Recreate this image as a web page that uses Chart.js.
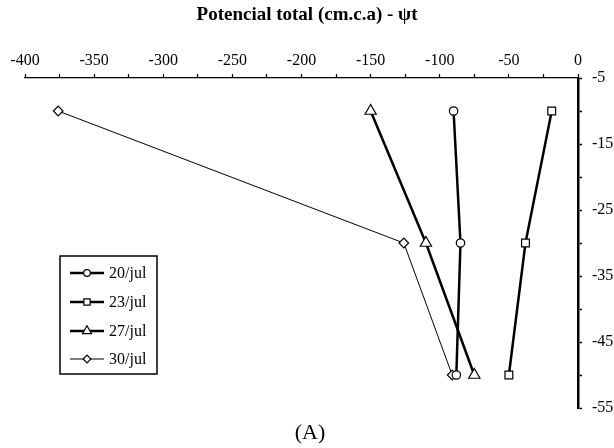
<!DOCTYPE html>
<html>
<head>
<meta charset="utf-8">
<script src="https://cdn.jsdelivr.net/npm/chart.js@4.4.0/dist/chart.umd.min.js"></script>
<style>
  body { margin: 0; background: #fff; }
  #wrap { position: relative; width: 614px; height: 448px; }
</style>
</head>
<body>
<div id="wrap"><canvas id="myChart" width="614" height="448"></canvas></div>
<script>
// profundidade (cm) de cada leitura
let depths = [-10, -30, -50]
// potencial total (cm.c.a) por data
let jul20 = [-90, -85, -88]
let jul23 = [-19, -38, -50]
let jul27 = [-150, -110, -75]
let jul30 = [-376, -126, -91]
let seriesNames = ['20/jul', '23/jul', '27/jul', '30/jul']
let xTicks = [-400, -350, -300, -250, -200, -150, -100, -50, 0]
let yTicks = [-5, -15, -25, -35, -45, -55]

let font = 'Liberation Serif'

function pts(vals) {
    return vals.map(function(v, i){ return { x: v, y: depths[i] } })
}

function mkSet(label, vals, shape, r, lw) {
    return {
        label: label,
        data: pts(vals),
        showLine: true,
        borderColor: '#000',
        borderWidth: lw,
        backgroundColor: '#fff',
        pointStyle: shape,
        pointRadius: r,
        pointBorderWidth: 1.2,
        pointBorderColor: '#000',
        pointBackgroundColor: '#fff'
    }
}

let sets = [
    mkSet(seriesNames[0], jul20, 'circle', 4.2, 2.5),
    mkSet(seriesNames[1], jul23, 'rect', 5.5, 2.5),
    mkSet(seriesNames[2], jul27, 'triangle', 6.5, 2.5),
    mkSet(seriesNames[3], jul30, 'rectRot', 4.8, 1)
]

// titulo, (A) e legenda desenhados a mao
let extras = {
    id: 'extras',
    afterDraw: function(chart) {
        let ctx = chart.ctx
        ctx.save()
        ctx.fillStyle = '#000'
        ctx.textAlign = 'center'
        ctx.textBaseline = 'middle'
        ctx.font = 'bold 19px "' + font + '"'
        ctx.fillText('Potencial total (cm.c.a) - \u03C8t', 307, 15)
        ctx.font = '22px "' + font + '"'
        ctx.fillText('(A)', 310, 433)

        // legenda
        ctx.strokeStyle = '#000'
        ctx.lineWidth = 1.5
        ctx.strokeRect(60, 256, 97, 118)
        let rowY = [273, 302, 331, 359]
        ctx.font = '16px "' + font + '"'
        ctx.textAlign = 'left'
        sets.forEach(function(ds, i){
            let y = rowY[i]
            ctx.strokeStyle = '#000'
            ctx.lineWidth = ds.borderWidth
            ctx.beginPath()
            ctx.moveTo(70, y)
            ctx.lineTo(104, y)
            ctx.stroke()
            ctx.fillStyle = '#fff'
            ctx.lineWidth = 1.2
            Chart.helpers.drawPoint(ctx, {
                pointStyle: ds.pointStyle,
                radius: ds.pointRadius * 0.8,
                borderWidth: 1.2,
                rotation: 0
            }, 87, y)
            ctx.fillStyle = '#000'
            ctx.fillText(ds.label, 109, y + 1)
        })
        ctx.restore()
    }
}

let myChart = new Chart(document.getElementById('myChart'), {
    type: 'scatter',
    data: { datasets: sets },
    options: {
        responsive: false,
        animation: false,
        layout: { padding: { left: 25, right: 0, top: 0, bottom: 40 } },
        plugins: {
            legend: { display: false },
            tooltip: { enabled: false },
            title: { display: false }
        },
        scales: {
            x: {
                type: 'linear',
                position: 'top',
                min: -400,
                max: 0,
                afterFit: function(s){ s.height = 78 },
                afterBuildTicks: function(s){
                    let t = []
                    for (let v = -400; v <= 0; v += 25) t.push({ value: v })
                    s.ticks = t
                },
                ticks: {
                    color: '#000',
                    padding: 4,
                    maxRotation: 0,
                    autoSkip: false,
                    font: { family: font, size: 16 },
                    callback: function(v){ return xTicks.indexOf(v) >= 0 ? String(v) : '' }
                },
                grid: { drawOnChartArea: false, drawTicks: true, tickLength: 4, tickColor: '#000', tickWidth: 1.2 },
                border: { display: true, color: '#000', width: 1.3 }
            },
            y: {
                type: 'linear',
                position: 'right',
                min: -55,
                max: -5,
                afterFit: function(s){ s.width = 36 },
                afterBuildTicks: function(s){
                    let t = []
                    for (let v = -55; v <= -5; v += 5) t.push({ value: v })
                    s.ticks = t
                },
                ticks: {
                    color: '#000',
                    padding: 10,
                    autoSkip: false,
                    font: { family: font, size: 16 },
                    callback: function(v){ return yTicks.indexOf(v) >= 0 ? String(v) : '' }
                },
                grid: { drawOnChartArea: false, drawTicks: true, tickLength: 4, tickColor: '#000', tickWidth: 1.5 },
                border: { display: true, color: '#000', width: 2.5 }
            }
        }
    },
    plugins: [extras]
})
</script>
</body>
</html>
